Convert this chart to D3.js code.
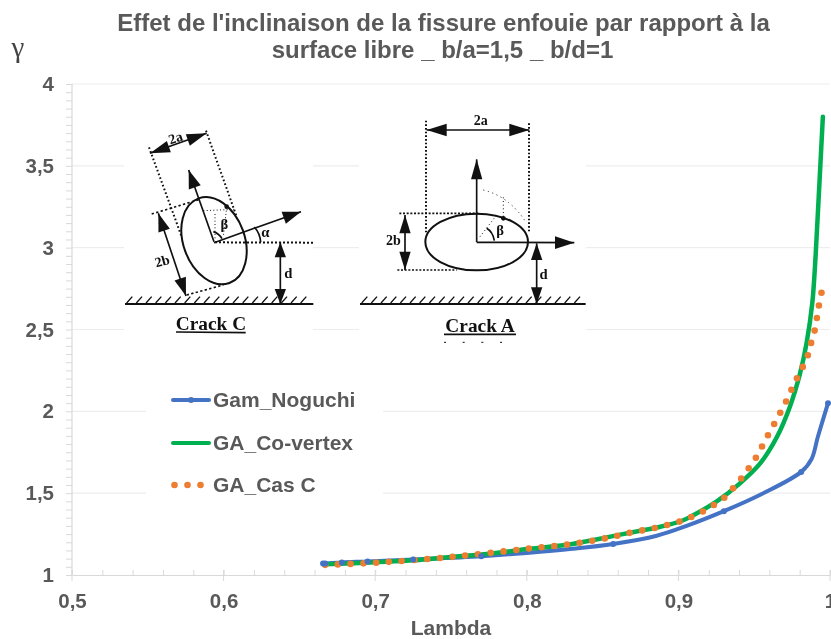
<!DOCTYPE html>
<html><head><meta charset="utf-8">
<script src="https://cdn.jsdelivr.net/npm/d3@7"></script>
<style>
html,body{margin:0;padding:0;background:#fff;overflow:hidden}
svg{display:block;filter:blur(0.4px)}
text{font-family:"Liberation Sans",Arial,sans-serif}
.serif{font-family:"Liberation Serif","Times New Roman",serif;font-weight:bold;fill:#111}
</style></head><body>
<svg id="c" width="831" height="639"></svg>
<script>
const titleLines = ["Effet de l'inclinaison de la fissure enfouie par rapport à la", "surface libre _ b/a=1,5 _ b/d=1"];
const xTicks = [0.5,0.6,0.7,0.8,0.9,1];
const yTicks = [1,1.5,2,2.5,3,3.5,4];
const seriesNames = ["Gam_Noguchi","GA_Co-vertex","GA_Cas C"];
const seriesColors = ["#4472C4","#00B050","#ED7D31"];

const noguchiLambda = [0.6656,0.667,0.678,0.695,0.725,0.77,0.80,0.83,0.857,0.8857,0.9054,0.93,0.955,0.981,0.9879,0.992,0.9987];
const noguchiGamma  = [1.07,1.07,1.077,1.083,1.095,1.115,1.135,1.16,1.19,1.24,1.30,1.39,1.495,1.63,1.71,1.845,2.05];
const noguchiMarked = [0.6656,0.667,0.678,0.695,0.725,0.77,0.857,0.93,0.981,0.9987];

const coVertexLambda = [0.667,0.70,0.726,0.75,0.77,0.802,0.83,0.8527,0.869,0.8857,0.902,0.9098,0.9253,0.9406,0.9538,0.9648,0.9736,0.9802,0.9846,0.9883,0.9905,0.9925,0.9953];
const coVertexGamma  = [1.065,1.078,1.09,1.11,1.125,1.16,1.19,1.23,1.26,1.29,1.33,1.365,1.45,1.56,1.68,1.84,2.03,2.23,2.42,2.66,2.95,3.3,3.80];

const casCLambda = [0.667,0.70,0.75,0.80,0.83,0.8527,0.869,0.8857,0.902,0.9098,0.9175,0.9246,0.9312,0.937,0.9423,0.9473,0.952,0.956,0.96,0.9642,0.968,0.9718,0.9754,0.979,0.983,0.986,0.988,0.9903,0.9916,0.993,0.9947];
const casCGamma  = [1.062,1.075,1.11,1.16,1.19,1.226,1.26,1.29,1.33,1.36,1.395,1.435,1.48,1.54,1.60,1.665,1.73,1.80,1.87,1.94,2.005,2.075,2.149,2.217,2.29,2.36,2.435,2.51,2.585,2.663,2.737];

const svg = d3.select("#c");
const x = d3.scaleLinear().domain([0.5,1]).range([72,830]);
const y = d3.scaleLinear().domain([1,4]).range([575,84]);
const AX="#D9D9D9", GR="#EDEDED", TXT="#595959";

svg.append("g").selectAll("line").data(yTicks.slice(1)).join("line")
  .attr("x1",x(0.5)).attr("x2",x(1)).attr("y1",d=>y(d)).attr("y2",d=>y(d))
  .attr("stroke",GR).attr("stroke-width",1.2);

const xAxis = d3.axisBottom(x).tickValues(d3.range(0,26).map(i=>0.5+i*0.02)).tickSize(0).tickFormat("");
const gx = svg.append("g").attr("transform",`translate(0,${y(1)})`).call(xAxis);
gx.select(".domain").attr("stroke",AX).attr("stroke-width",1.2);
gx.selectAll(".tick line").attr("stroke",AX).attr("y1",-5).attr("y2",0);
svg.append("g").selectAll("line").data(xTicks).join("line")
  .attr("x1",d=>x(d)).attr("x2",d=>x(d)).attr("y1",y(1)-5).attr("y2",y(1)+6).attr("stroke",AX);
const yAxis = d3.axisLeft(y).tickValues(d3.range(0,61).map(i=>1+i*0.05)).tickSize(6).tickFormat("");
const gy = svg.append("g").attr("transform",`translate(${x(0.5)},0)`).call(yAxis);
gy.select(".domain").attr("stroke",AX).attr("stroke-width",1.2).attr("d",`M0,${y(4)}V${y(1)}`);
gy.selectAll(".tick line").attr("stroke",AX);

const fr = d3.format(".1f");
const lab = v => (Number.isInteger(v)?String(v):fr(v)).replace(".",",");
svg.append("g").selectAll("text").data(xTicks).join("text")
  .attr("x",d=>x(d)+0.5).attr("y",608).attr("text-anchor","middle")
  .attr("font-size",20.5).attr("font-weight","bold").attr("fill",TXT).text(lab);
svg.append("g").selectAll("text").data(yTicks).join("text")
  .attr("x",54).attr("y",d=>y(d)+7).attr("text-anchor","end")
  .attr("font-size",20.5).attr("font-weight","bold").attr("fill",TXT).text(lab);

svg.append("g").selectAll("text").data(titleLines).join("text")
  .attr("x",(d,i)=>i?442.5:443.5).attr("y",(d,i)=>31+i*27).attr("text-anchor","middle")
  .attr("font-size",24).attr("font-weight","bold").attr("fill",TXT).text(d=>d);
svg.append("text").attr("x",451).attr("y",635).attr("text-anchor","middle")
  .attr("font-size",21).attr("font-weight","bold").attr("fill",TXT).text("Lambda");
svg.append("text").attr("x",18).attr("y",57).attr("text-anchor","middle")
  .style("font-family",'"Liberation Serif",serif').attr("font-size",29).attr("fill","#444").text("γ");

const panels = [[124,90,189,255],[359,90,227,255],[146,375,237,125]];
svg.append("g").selectAll("rect").data(panels).join("rect")
  .attr("x",d=>d[0]).attr("y",d=>d[1]).attr("width",d=>d[2]).attr("height",d=>d[3]).attr("fill","#fff");

const INK="#111";
function diagram(ox,oy){ return svg.append("g").attr("transform",`translate(${ox},${oy}) scale(${1/3})`); }
function seg(g,a,w,dash){ const l=g.append("line").attr("x1",a[0]).attr("y1",a[1]).attr("x2",a[2]).attr("y2",a[3]).attr("stroke",INK).attr("stroke-width",w||5);
  if(dash) l.attr("stroke-dasharray",dash); return l; }
function head(g,tx,ty,fx,fy,len,wid){ const L=Math.hypot(tx-fx,ty-fy),ux=(tx-fx)/L,uy=(ty-fy)/L;
  const bx=tx-ux*len,by=ty-uy*len;
  g.append("path").attr("fill",INK).attr("d",`M${tx},${ty}L${bx-uy*wid},${by+ux*wid}L${bx+uy*wid},${by-ux*wid}Z`); }
function arrow(g,a,both,len,wid){ seg(g,a,5); head(g,a[2],a[3],a[0],a[1],len||55,wid||19); if(both) head(g,a[0],a[1],a[2],a[3],len||55,wid||19); }
function label(g,t,px,py,fs,rot){ const e=g.append("text").attr("class","serif").attr("x",px).attr("y",py).attr("text-anchor","middle").attr("font-size",fs).text(t);
  if(rot) e.attr("transform",`rotate(${rot} ${px} ${py})`); return e; }
function ground(g,x0,x1,yy){ seg(g,[x0,yy,x1,yy],6); d3.range(x0+5,x1-15,29).forEach(h=>seg(g,[h,yy-3,h+17,yy-22],4)); }

const C = diagram(100,90);
C.append("ellipse").attr("rx",92).attr("ry",135).attr("transform","translate(342,452) rotate(-20)")
 .attr("fill","none").attr("stroke",INK).attr("stroke-width",6);
arrow(C,[342,455,266,240]);
arrow(C,[342,458,603,365]);
seg(C,[345,457,640,458],6,"6 6");
arrow(C,[541,457,541,642],true,45,17);
ground(C,75,640,642);
arrow(C,[150,190,320,130],true,60,18);
seg(C,[147,172,245,440],6,"5 7");
seg(C,[318,122,410,380],6,"5 7");
seg(C,[155,372,300,328],5,"7 7");
seg(C,[260,615,370,585],5,"7 7");
arrow(C,[175,370,258,618],true,55,18);
seg(C,[310,362,405,358],3,"3 7");
seg(C,[345,372,345,450],3,"3 7");
seg(C,[380,352,370,440],3,"3 7");
C.append("circle").attr("cx",380).attr("cy",350).attr("r",7).attr("fill",INK);
C.append("path").attr("d","M340,425Q356,430 366,446").attr("fill","none").attr("stroke",INK).attr("stroke-width",5);
C.append("path").attr("d","M463,411Q480,430 482,456").attr("fill","none").attr("stroke",INK).attr("stroke-width",5);
label(C,"2a",231,157,42,-18);
label(C,"2b",190,527,42,-15);
label(C,"β",373,418,44);
label(C,"α",496,442,44);
label(C,"d",565,565,44);
label(C,"Crack C",333,720,58);
seg(C,[228,726,437,728],5);

const A = diagram(340,90);
A.append("ellipse").attr("cx",410).attr("cy",456).attr("rx",154).attr("ry",85)
 .attr("fill","none").attr("stroke",INK).attr("stroke-width",6);
arrow(A,[410,456,410,208],false,60,17);
arrow(A,[410,457,703,458],false,58,19);
arrow(A,[260,120,568,120],true,60,19);
seg(A,[258,92,258,430],6,"5 6");
seg(A,[567,100,567,430],6,"5 6");
seg(A,[178,370,415,370],5,"6 5");
seg(A,[172,540,350,540],5,"6 5");
arrow(A,[195,375,195,540],true,55,17);
arrow(A,[590,460,590,642],true,50,17);
ground(A,60,737,642);
A.append("path").attr("d","M430,300Q510,320 560,400").attr("fill","none").attr("stroke",INK).attr("stroke-width",3).attr("stroke-dasharray","3 11");
seg(A,[490,322,490,385],3,"3 8");
seg(A,[420,440,470,375],3,"3 8");
A.append("circle").attr("cx",490).attr("cy",385).attr("r",7).attr("fill",INK);
A.append("path").attr("d","M440,415Q458,425 463,452").attr("fill","none").attr("stroke",INK).attr("stroke-width",5);
label(A,"2a",422,105,42);
label(A,"2b",160,464,42);
label(A,"β",480,436,44);
label(A,"d",611,568,44);
label(A,"Crack A",420,726,58);
seg(A,[312,733,528,733],5);
seg(A,[312,757,525,757],3,"6 50");

const line = d3.line().x(d=>x(d[0])).y(d=>y(d[1])).curve(d3.curveCatmullRom.alpha(0.5));
const gS = svg.append("g").attr("fill","none").attr("stroke-linecap","round").attr("stroke-linejoin","round");
gS.append("path").attr("d",line(d3.zip(noguchiLambda,noguchiGamma))).attr("stroke",seriesColors[0]).attr("stroke-width",4);
svg.append("g").selectAll("circle").data(noguchiMarked).join("circle")
  .attr("cx",d=>x(d)).attr("cy",d=>y(noguchiGamma[noguchiLambda.indexOf(d)])).attr("r",3).attr("fill",seriesColors[0]);
gS.append("path").attr("d",line(d3.zip(coVertexLambda,coVertexGamma))).attr("stroke",seriesColors[1]).attr("stroke-width",4.5);
gS.append("path").attr("d",line(d3.zip(casCLambda,casCGamma))).attr("stroke",seriesColors[2]).attr("stroke-width",6.6).attr("stroke-dasharray","0 12.77");

const legY=[400,443,485], legT=[407,450,492];
const leg = svg.append("g");
seriesNames.forEach((n,i)=>{
  const l=leg.append("line").attr("x1",173).attr("x2",209).attr("y1",legY[i]).attr("y2",legY[i]).attr("stroke",seriesColors[i]).attr("stroke-linecap","round");
  if(i==2) l.attr("x1",174.5).attr("x2",202).attr("stroke-width",6.6).attr("stroke-dasharray","0 13");
  else l.attr("stroke-width",4);
  leg.append("text").attr("x",213).attr("y",legT[i]).attr("font-size",21).attr("font-weight","bold").attr("fill",TXT).text(n);
});
leg.append("circle").attr("cx",191).attr("cy",400).attr("r",3).attr("fill",seriesColors[0]);
</script>
</body></html>
